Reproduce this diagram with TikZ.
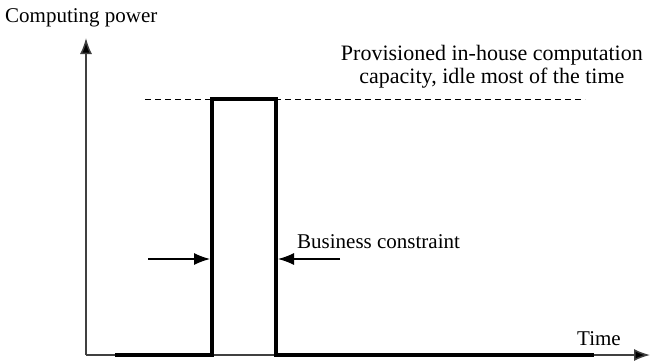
\documentclass[tikz,border=0pt]{standalone}
\usepackage{fontspec}
\setmainfont{Liberation Serif}
\usetikzlibrary{arrows.meta}
\begin{document}
\begin{tikzpicture}[x=1pt,y=-1pt,
  axisline/.style={line width=1.5pt,draw=black!75,-{Latex[length=16pt,width=12pt,fill=black]}},
  signal/.style={line width=4pt,line join=miter},
  capline/.style={line width=1pt,dash pattern=on 6pt off 4pt},
  pointer/.style={line width=1.2pt,-{Latex[length=16pt,width=12pt]}},
  lbl/.style={font=\fontsize{21}{23}\selectfont,inner sep=0pt}]
  \useasboundingbox (0,0) rectangle (650,362);

  % axes
  \coordinate (origin) at (86,355);
  \coordinate (ytip) at (86,38);
  \coordinate (xtip) at (650,355);
  \draw[axisline] (origin) -- (ytip);
  \draw[axisline] (origin) -- (xtip);

  % provisioned capacity level
  \coordinate (capL) at (145,99);
  \coordinate (capR) at (585,99);
  \draw[capline] (capL) -- (capR);

  % demand pulse
  \coordinate (s0) at (115,355);
  \coordinate (s1) at (212,355);
  \coordinate (s2) at (212,99);
  \coordinate (s3) at (276,99);
  \coordinate (s4) at (276,355);
  \coordinate (s5) at (594,355);
  \draw[signal] (s0) -- (s1) -- (s2) -- (s3) -- (s4) -- (s5);

  % business constraint pointers
  \coordinate (pLs) at (148,259);
  \coordinate (pLe) at (210,259);
  \coordinate (pRs) at (340,259);
  \coordinate (pRe) at (278,259);
  \draw[pointer] (pLs) -- (pLe);
  \draw[pointer] (pRs) -- (pRe);

  % labels
  \node[lbl,anchor=west] (ylabel) at (5,18) {Computing power};
  \node[lbl,anchor=west] (xlabel) at (577,339) {Time};
  \node[lbl,anchor=west] (constraint) at (297,242) {Business constraint};
  \node[lbl,font=\fontsize{22}{23}\selectfont,align=center,anchor=north east] (capacity) at (643,45)
    {Provisioned in-house computation\\capacity, idle most of the time};
\end{tikzpicture}
\end{document}
